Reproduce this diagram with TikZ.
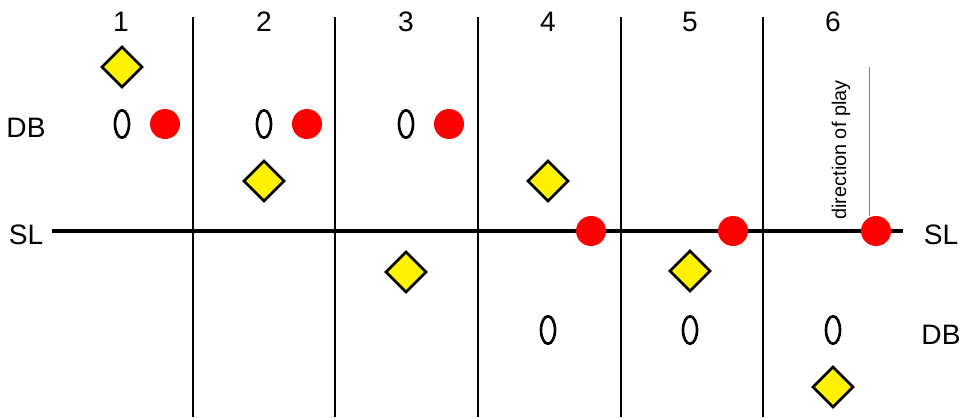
\documentclass[tikz,border=0pt]{standalone}
\usepackage{fontspec}
\setmainfont{Liberation Sans}
\usetikzlibrary{shapes.geometric}
\tikzset{
  player/.style={diamond,draw,line width=1.5pt,fill=yellow,minimum size=0.82cm,inner sep=0pt},
  back/.style={ellipse,draw,line width=1.5pt,minimum width=0.28cm,minimum height=0.55cm,inner sep=0pt},
  ball/.style={circle,fill=red,minimum size=0.6cm,inner sep=0pt},
  lbl/.style={font=\fontsize{16}{18}\selectfont}
}
\begin{document}
\begin{tikzpicture}[x=0.02cm,y=-0.02cm]
  \useasboundingbox (0,0) rectangle (962,417);
  % zone lines and numbers
  \foreach \x in {193,335,478,621,763}
    \draw[line width=0.6pt] (\x,17) -- (\x,417);
  \foreach \i/\x in {1/121,2/264,3/406,4/548,5/690,6/833}
    \node[lbl] (num\i) at (\x,22) {\i};
  % scrimmage line
  \coordinate (slw) at (52,231);
  \coordinate (sle) at (903,231);
  \draw[line width=2.2pt] (slw) -- (sle);
  \node[lbl] (slleft) at (26,235) {SL};
  \node[lbl] (slright) at (941,235) {SL};
  \node[lbl] (dbleft) at (26,128) {DB};
  \node[lbl] (dbright) at (941,335) {DB};
  % players per zone
  \foreach \i/\x/\dy/\by/\cy in {1/122/67/124/124, 2/264/181/124/124, 3/406/272/124/124,
                                 4/548/181/330/231, 5/690/271/330/231, 6/833/387/330/231} {
    \node[player] (d\i) at (\x,\dy) {};
    \node[back] (b\i) at (\x,\by) {};
    \node[ball] (r\i) at (\x+43,\cy) {};
  }
  % direction of play
  \coordinate (dirtop) at (869,67);
  \draw[line width=0.3pt,gray] (dirtop) -- (dirtop |- r6.north);
  \node[rotate=90,font=\fontsize{11.3}{13}\selectfont] (dir) at (841,150) {direction of play};
\end{tikzpicture}
\end{document}
